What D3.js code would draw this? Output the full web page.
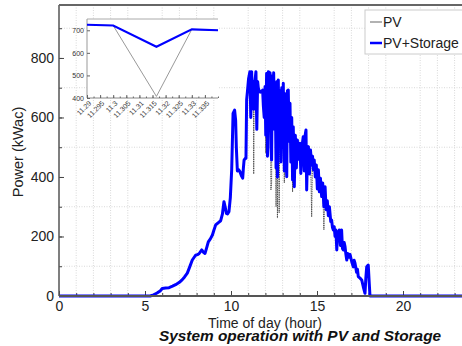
<!DOCTYPE html>
<html>
<head>
<meta charset="utf-8">
<script src="https://cdn.jsdelivr.net/npm/d3@7"></script>
<style>
  body { margin: 0; background: #fff; }
  svg { font-family: "Liberation Sans", Arial, sans-serif; }
</style>
</head>
<body>
<svg id="chart" width="462" height="346"></svg>
<script>
// time of day (hour), shared by both series
const hours = [
  0, 5.3, 5.5, 5.7, 5.9, 6.0, 6.2, 6.4, 6.6, 6.78,
  7.0, 7.17, 7.3, 7.46, 7.6, 7.75, 7.94, 8.05, 8.14, 8.3,
  8.4, 8.49, 8.6, 8.68, 8.8, 8.92, 9.0, 9.11, 9.25, 9.4,
  9.5, 9.59, 9.66, 9.73, 9.8, 9.88, 9.96, 10.04, 10.12, 10.21,
  10.27, 10.31, 10.37, 10.44, 10.52, 10.6, 10.68, 10.72, 10.76, 10.82,
  10.87, 10.91, 10.96, 11.02, 11.1, 11.15, 11.2, 11.25, 11.3, 11.32,
  11.35, 11.4, 11.45, 11.5, 11.55, 11.59, 11.64, 11.7, 11.78, 11.84,
  11.88, 11.93, 11.98, 12.02, 12.07, 12.12, 12.17, 12.22, 12.27, 12.32,
  12.36, 12.4, 12.44, 12.48, 12.53, 12.57, 12.62, 12.66, 12.7, 12.75,
  12.8, 12.85, 12.9, 12.95, 13.0, 13.04, 13.1, 13.15, 13.2, 13.24,
  13.28, 13.33, 13.38, 13.43, 13.48, 13.53, 13.58, 13.62, 13.68, 13.74,
  13.8, 13.86, 13.92, 14.01, 14.06, 14.12, 14.2, 14.26, 14.31, 14.36,
  14.4, 14.45, 14.5, 14.56, 14.62, 14.69, 14.74, 14.79, 14.84, 14.9,
  14.96, 15.02, 15.08, 15.14, 15.2, 15.27, 15.33, 15.4, 15.47, 15.53,
  15.6, 15.66, 15.72, 15.8, 15.85, 15.9, 15.95, 16.0, 16.05, 16.1,
  16.15, 16.2, 16.24, 16.3, 16.36, 16.43, 16.48, 16.53, 16.58, 16.63,
  16.68, 16.73, 16.78, 16.85, 16.92, 17.02, 17.11, 17.16, 17.21, 17.3,
  17.35, 17.4, 17.5, 17.6, 17.69, 17.79, 17.84, 17.89, 17.98, 18.04,
  18.08, 24
];

const pvStorage = [
  0, 0, 4, 10, 18, 25, 27, 28, 33, 38,
  46, 55, 64, 77, 98, 121, 137, 139, 142, 155,
  147, 143, 165, 182, 192, 205, 220, 239, 246, 253,
  275, 317, 300, 278, 276, 283, 330, 424, 614, 625,
  590, 500, 420, 425, 418, 405, 396, 430, 457, 462,
  463, 660, 690, 730, 754, 600, 754, 650, 720, 628,
  700, 726, 754, 560, 720, 698, 690, 685, 687, 692,
  640, 600, 704, 540, 748, 470, 754, 648, 750, 500,
  457, 740, 660, 750, 560, 700, 430, 720, 400, 726,
  520, 690, 450, 700, 560, 715, 420, 680, 480, 401,
  690, 692, 520, 648, 450, 600, 390, 569, 367, 540,
  430, 524, 460, 513, 412, 500, 535, 420, 540, 558,
  356, 480, 502, 410, 491, 440, 470, 424, 457, 400,
  440, 360, 424, 350, 396, 334, 380, 300, 367, 290,
  320, 270, 300, 250, 255, 230, 222, 233, 200, 222,
  155, 215, 190, 222, 170, 222, 160, 155, 180, 166,
  140, 121, 143, 130, 140, 115, 98, 120, 110, 80,
  90, 65, 60, 54, 31, 9, 60, 98, 104, 40,
  0, 0
];

const pv = [
  0, 0, 4, 10, 18, 25, 27, 28, 33, 38,
  46, 55, 64, 77, 98, 121, 137, 139, 142, 155,
  147, 143, 165, 182, 192, 205, 220, 239, 246, 253,
  275, 317, 300, 278, 276, 283, 330, 424, 614, 625,
  590, 500, 420, 425, 418, 405, 396, 430, 457, 462,
  463, 660, 690, 730, 754, 600, 754, 650, 720, 410,
  700, 726, 754, 560, 720, 698, 690, 685, 687, 692,
  640, 600, 704, 480, 748, 470, 754, 648, 750, 356,
  380, 740, 660, 750, 560, 700, 300, 720, 262, 726,
  279, 690, 450, 700, 560, 715, 380, 680, 480, 401,
  690, 692, 520, 648, 450, 600, 350, 569, 367, 540,
  430, 524, 460, 513, 412, 500, 535, 420, 540, 558,
  356, 480, 502, 410, 491, 266, 470, 424, 457, 400,
  440, 360, 424, 350, 396, 334, 380, 222, 367, 290,
  320, 270, 300, 250, 255, 230, 222, 233, 200, 222,
  155, 215, 190, 222, 170, 222, 160, 155, 180, 166,
  140, 121, 143, 130, 140, 115, 98, 120, 110, 80,
  90, 65, 60, 54, 31, 9, 60, 98, 104, 40,
  0, 0
];

// zoomed inset around 11.3 h
const insetHours = [11.29, 11.3, 11.3165, 11.33, 11.34];
const insetPvStorage = [725, 721, 627, 704, 700];
const insetPv = [725, 721, 407, 704, 700];
const insetXTicks = [11.29, 11.295, 11.3, 11.305, 11.31, 11.315, 11.32, 11.325, 11.33, 11.335];
const insetYTicks = [400, 500, 600, 700];

const xTicks = [0, 5, 10, 15, 20];
const yTicks = [0, 200, 400, 600, 800];

const svg = d3.select("#chart");
const plotLeft = 59, plotTop = 5, plotBottom = 296;

const x = d3.scaleLinear().domain([0, 24]).range([plotLeft, plotLeft + 412.8]);
const y = d3.scaleLinear().domain([0, 978]).range([plotBottom, plotTop]);

// grid on minor positions only
const gx = d3.range(1, 24).filter(h => h % 5 !== 0);
const gy = d3.range(100, 1000, 200);
const grid = svg.append("g").attr("stroke", "#d8d8d8").attr("stroke-dasharray", "1,1.5");
grid.selectAll("line.v").data(gx).enter().append("line")
  .attr("x1", d => x(d)).attr("x2", d => x(d)).attr("y1", plotTop).attr("y2", plotBottom);
grid.selectAll("line.h").data(gy).enter().append("line")
  .attr("x1", plotLeft).attr("x2", 462).attr("y1", d => y(d)).attr("y2", d => y(d));

// axes (ticks pointing inward)
const xAxis = svg.append("g").attr("transform", `translate(0,${plotBottom})`)
  .call(d3.axisBottom(x).tickValues(xTicks).tickSizeInner(-5).tickSizeOuter(0).tickPadding(5));
const xMinor = svg.append("g").attr("transform", `translate(0,${plotBottom})`)
  .call(d3.axisBottom(x).tickValues(d3.range(0, 24)).tickSizeInner(-3).tickSizeOuter(0).tickFormat(""));
const yAxis = svg.append("g").attr("transform", `translate(${plotLeft},0)`)
  .call(d3.axisLeft(y).tickValues(yTicks).tickSizeInner(-5).tickSizeOuter(0).tickPadding(5));
const yMinor = svg.append("g").attr("transform", `translate(${plotLeft},0)`)
  .call(d3.axisLeft(y).tickValues(d3.range(0, 1000, 100)).tickSizeInner(-3).tickSizeOuter(0).tickFormat(""));
[xAxis, xMinor, yAxis, yMinor].forEach(g => {
  g.select(".domain").remove();
  g.selectAll("line").attr("stroke", "#444");
  g.selectAll("text").attr("font-size", 14).attr("fill", "#222").attr("font-family", null);
});

// main lines
const line = d3.line().x(d => x(d[0])).y(d => y(d[1]));
const pvData = hours.map((h, i) => [h, pv[i]]);
const pvsData = hours.map((h, i) => [h, pvStorage[i]]);
svg.append("path").datum(pvData).attr("d", line)
  .attr("fill", "none").attr("stroke", "#444").attr("stroke-width", 1).attr("stroke-dasharray", "1,0.8");
svg.append("path").datum(pvsData).attr("d", line)
  .attr("fill", "none").attr("stroke", "#0000ff").attr("stroke-width", 3).attr("stroke-linejoin", "round");

// frame
svg.append("line").attr("x1", plotLeft).attr("x2", 462).attr("y1", plotBottom).attr("y2", plotBottom)
  .attr("stroke", "#555").attr("stroke-width", 2);
svg.append("line").attr("x1", plotLeft).attr("x2", plotLeft).attr("y1", plotTop).attr("y2", plotBottom)
  .attr("stroke", "#555").attr("stroke-width", 1.5);
svg.append("line").attr("x1", plotLeft).attr("x2", 462).attr("y1", plotTop).attr("y2", plotTop)
  .attr("stroke", "#666").attr("stroke-width", 2);

// inset
const ix = d3.scaleLinear().domain([11.29, 11.34]).range([87, 218]);
const iy = d3.scaleLinear().domain([400, 750]).range([98, 19]);
const inset = svg.append("g");
inset.append("rect").attr("x", 87).attr("y", 19).attr("width", 131).attr("height", 79).attr("fill", "#fff");
inset.append("line").attr("x1", 87).attr("x2", 218).attr("y1", 19).attr("y2", 19).attr("stroke", "#aaa");
inset.append("line").attr("x1", 87).attr("x2", 87).attr("y1", 19).attr("y2", 98).attr("stroke", "#999");
inset.append("line").attr("x1", 87).attr("x2", 218).attr("y1", 98).attr("y2", 98).attr("stroke", "#888");
const ixAxis = inset.append("g").attr("transform", "translate(0,98)")
  .call(d3.axisBottom(ix).tickValues(insetXTicks).tickSizeInner(-3).tickSizeOuter(0).tickFormat(""));
const ixMinor = inset.append("g").attr("transform", "translate(0,98)")
  .call(d3.axisBottom(ix).tickValues(d3.range(11.29, 11.34, 0.0025)).tickSizeInner(-1.5).tickSizeOuter(0).tickFormat(""));
const iyAxis = inset.append("g").attr("transform", "translate(87,0)")
  .call(d3.axisLeft(iy).tickValues(insetYTicks).tickSizeInner(-3).tickSizeOuter(0).tickPadding(3));
[ixAxis, ixMinor, iyAxis].forEach(g => {
  g.select(".domain").remove();
  g.selectAll("line").attr("stroke", "#666");
  g.selectAll("text").attr("font-size", 7).attr("fill", "#333").attr("font-family", null);
});
inset.selectAll("text.ixl").data(insetXTicks).enter().append("text")
  .attr("transform", d => `translate(${ix(d) + 3},${102}) rotate(-45)`)
  .attr("text-anchor", "end").attr("dy", "0.35em")
  .attr("font-size", 7).attr("fill", "#333")
  .text(d => String(+d.toFixed(3)));
const iline = d3.line().x(d => ix(d[0])).y(d => iy(d[1]));
inset.append("path").datum(insetHours.map((h, i) => [h, insetPv[i]])).attr("d", iline)
  .attr("fill", "none").attr("stroke", "#999").attr("stroke-width", 1);
inset.append("path").datum(insetHours.map((h, i) => [h, insetPvStorage[i]])).attr("d", iline)
  .attr("fill", "none").attr("stroke", "#0000ff").attr("stroke-width", 2);

// legend
const legend = svg.append("g");
legend.append("rect").attr("x", 365).attr("y", 10).attr("width", 110).attr("height", 44)
  .attr("fill", "#fff").attr("stroke", "#ccc");
legend.append("line").attr("x1", 370).attr("x2", 382).attr("y1", 22).attr("y2", 22)
  .attr("stroke", "#999").attr("stroke-width", 1.5);
legend.append("line").attr("x1", 370).attr("x2", 382).attr("y1", 43).attr("y2", 43)
  .attr("stroke", "#0000ff").attr("stroke-width", 2.5);
legend.append("text").attr("x", 383).attr("y", 27).attr("font-size", 14).attr("fill", "#222").text("PV");
legend.append("text").attr("x", 383).attr("y", 48).attr("font-size", 14).attr("fill", "#222").text("PV+Storage");

// titles
svg.append("text").attr("transform", "translate(23,152) rotate(-90)")
  .attr("text-anchor", "middle").attr("font-size", 14.5).attr("fill", "#222").text("Power (kWac)");
svg.append("text").attr("x", 265).attr("y", 328).attr("text-anchor", "middle")
  .attr("font-size", 14).attr("fill", "#222").text("Time of day (hour)");
svg.append("text").attr("x", 300).attr("y", 341).attr("text-anchor", "middle")
  .attr("font-size", 15.4).attr("font-weight", "bold").attr("font-style", "italic")
  .attr("fill", "#111").text("System operation with PV and Storage");
</script>
</body>
</html>
